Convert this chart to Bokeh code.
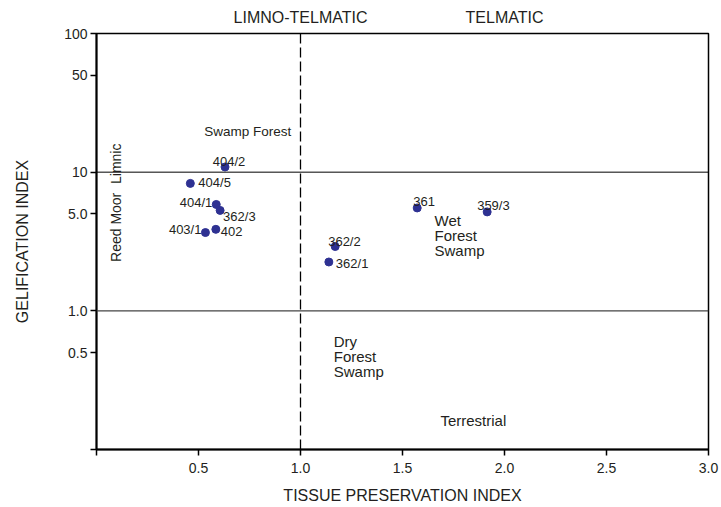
import math
from bokeh.plotting import figure
from bokeh.models import (Range1d, FixedTicker, Span, Label, ColumnDataSource, LinearAxis)
from bokeh.core.properties import value
from bokeh.embed import file_html
from bokeh.resources import INLINE

# ---- data ----
sample_names = ["404/2", "404/5", "404/1", "362/3", "403/1", "402", "362/2", "362/1", "361", "359/3"]
tpi = [0.63, 0.46, 0.587, 0.606, 0.534, 0.585, 1.17, 1.139, 1.572, 1.915]
gi = [10.9, 8.3, 5.85, 5.3, 3.67, 3.87, 2.91, 2.25, 5.52, 5.17]

x_ticks = [0, 0.5, 1.0, 1.5, 2.0, 2.5, 3.0]
x_tick_labels = ["", "0.5", "1.0", "1.5", "2.0", "2.5", "3.0"]
y_ticks = [0.1, 0.5, 1, 5, 10, 50, 100]
y_tick_labels = ["", "0.5", "1.0", "5.0", "10", "50", "100"]

top_positions = [1.0, 2.0]
top_labels = ["LIMNO-TELMATIC", "TELMATIC"]

# ---- label styles (offsets in px) ----
lab_align = ["center", "left", "right", "left", "right", "left", "left", "left", "left", "left"]
lab_base = ["alphabetic", "middle", "alphabetic", "top", "alphabetic", "top", "alphabetic", "middle", "alphabetic", "alphabetic"]
lab_dx = [4, 8, -4, 3, -4, 5, -7, 7, -4, -10]
lab_dy = [-5.5, -1, -1.5, -1, -3, -2, -5, 2, -6.5, -6.5]

FONT = "Liberation Sans"
TXT = "#231f20"
DOT = "#2e3192"

p = figure(width=721, height=507, output_backend="svg", toolbar_location=None,
           x_range=Range1d(0, 3), y_range=Range1d(0.1, 100), y_axis_type="log",
           min_border_left=96, min_border_right=13, min_border_top=33, min_border_bottom=58)
p.grid.visible = False
p.outline_line_color = "black"
p.outline_line_width = 1.5
p.background_fill_color = "white"
p.border_fill_color = "white"

for ax in (p.xaxis[0], p.yaxis[0]):
    ax.axis_line_width = 2
    ax.axis_line_color = "black"
    ax.major_tick_line_width = 1.5
    ax.major_tick_line_color = "black"
    ax.major_tick_out = 6
    ax.major_tick_in = 0
    ax.minor_tick_line_color = None
    ax.major_label_text_font = FONT
    ax.major_label_text_font_size = "14px"
    ax.major_label_text_color = TXT
    ax.axis_label_text_font = FONT
    ax.axis_label_text_font_size = "16px"
    ax.axis_label_text_font_style = "normal"
    ax.axis_label_text_color = TXT

p.xaxis[0].ticker = FixedTicker(ticks=x_ticks)
p.xaxis[0].major_label_overrides = {t: l for t, l in zip(x_ticks, x_tick_labels)}
p.yaxis[0].ticker = FixedTicker(ticks=y_ticks)
p.yaxis[0].major_label_overrides = {t: l for t, l in zip(y_ticks, y_tick_labels)}
p.xaxis[0].axis_label = "TISSUE PRESERVATION INDEX"
p.yaxis[0].axis_label = "GELIFICATION INDEX"
p.xaxis[0].major_label_standoff = 7
p.xaxis[0].axis_label_standoff = 11
p.yaxis[0].major_label_standoff = 3
p.yaxis[0].axis_label_standoff = 30

# zone names above the frame
top_axis = LinearAxis(ticker=FixedTicker(ticks=top_positions),
                      major_label_overrides={t: l for t, l in zip(top_positions, top_labels)},
                      axis_line_color=None, major_tick_line_color=None, minor_tick_line_color=None,
                      major_tick_out=0, major_tick_in=0, major_label_standoff=8,
                      major_label_text_font=FONT, major_label_text_font_size="16px",
                      major_label_text_color=TXT)
p.add_layout(top_axis, "above")

# reference lines
p.add_layout(Span(location=10, dimension="width", line_color="black", line_width=1))
p.add_layout(Span(location=1, dimension="width", line_color="#444444", line_width=1.2))
p.add_layout(Span(location=1.0, dimension="height", line_color="black", line_width=1.3, line_dash="10 4"))

src = ColumnDataSource(dict(x=tpi, y=gi, name=sample_names, align=lab_align, base=lab_base, dx=lab_dx, dy=lab_dy))
p.scatter("x", "y", source=src, size=8, fill_color=DOT, line_color=DOT)
p.text("x", "y", text="name", source=src, text_align="align", text_baseline="base",
       x_offset="dx", y_offset="dy", text_font=value(FONT), text_font_size="13px", text_color=TXT)

# region annotations
def lab(x, y, t, size="15px", align="left", angle=0.0, baseline="alphabetic"):
    p.add_layout(Label(x=x, y=y, text=t, text_font=FONT, text_font_size=size, text_color=TXT,
                       text_align=align, text_baseline=baseline, angle=angle))

lab(0.528, 19.7, "Swamp Forest", size="13.5px")
lab(0.095, 11.5, "Limnic", size="14px", align="center", angle=math.pi / 2)
lab(0.095, 4.0, "Reed Moor", size="14px", align="center", angle=math.pi / 2)
lab(1.657, 4.47, "Wet")
lab(1.657, 3.48, "Forest")
lab(1.657, 2.72, "Swamp")
lab(1.163, 0.600, "Dry")
lab(1.163, 0.468, "Forest")
lab(1.163, 0.365, "Swamp")
lab(1.686, 0.1625, "Terrestrial")

open("out.html", "w").write(file_html(p, INLINE))
